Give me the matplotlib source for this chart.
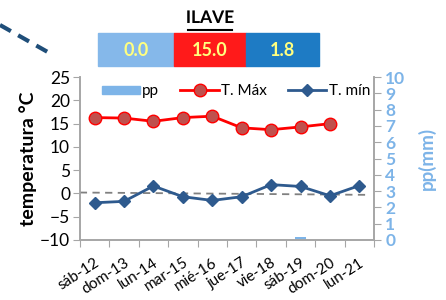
import matplotlib as mpl
mpl.use('agg')
import matplotlib.pyplot as plt
from matplotlib.lines import Line2D
from matplotlib.patches import Rectangle
import matplotlib.patheffects as pe

plt.rcParams['font.family'] = ['Lato', 'DejaVu Sans']

# data
days = ['sáb-12', 'dom-13', 'lun-14', 'mar-15', 'mié-16',
        'jue-17', 'vie-18', 'sáb-19', 'dom-20', 'lun-21']
tmax = [16.3, 16.2, 15.5, 16.3, 16.6, 14.1, 13.7, 14.3, 15.0, None]
tmin = [-2.0, -1.7, 1.6, -0.7, -1.5, -0.7, 1.9, 1.5, -0.5, 1.7]
pp = [0, 0, 0, 0, 0, 0, 0, 0.2, 0, 0]
trend_ends = [0.2, -0.3]
box_labels = ['0.0', '15.0', '1.8']
box_colors = ['#85B8EA', '#FF1A1A', '#1E7BC4']
station = 'ILAVE'

pp_color = '#7DB4E8'
max_color = '#FF0000'
min_color = '#2E5A8E'
spine_col = '#A6A6A6'

fig = plt.figure(figsize=(4.46, 3.0), dpi=100)
ax = fig.add_axes([0.179, 0.2, 0.66, 0.543])
ax2 = ax.twinx()

x = list(range(len(days)))
ax2.bar(x, pp, width=0.4, color=pp_color, label='pp', zorder=1)

xm = [i for i, v in enumerate(tmax) if v is not None]
ym = [v for v in tmax if v is not None]
ax.plot(xm, ym, color=max_color, lw=2, marker='o', ms=9,
        mfc='#C0504D', mec=max_color, mew=1, label='T. Máx', zorder=4)
ax.plot(x, tmin, color=min_color, lw=2, marker='D', ms=6.5,
        mfc=min_color, mec=min_color, label='T. mín', zorder=4)
ax.plot([-0.5, len(days) - 0.7], trend_ends, color='#808080', lw=1.3,
        ls=(0, (4, 3)), zorder=2)

ax.set_zorder(ax2.get_zorder() + 1)
ax.patch.set_visible(False)

ax.set_xlim(-0.5, len(days) - 0.5)
ax.set_ylim(-10, 25)
ax.set_yticks(range(-10, 26, 5))
ax2.set_ylim(0, 10)
ax2.set_yticks(range(0, 11))

ax.set_xticks([i - 0.5 for i in range(len(days) + 1)], minor=False)
ax.set_xticklabels([])
ax.set_xticks(x, minor=True)
ax.set_xticklabels(days, minor=True, rotation=33, ha='right',
                   rotation_mode='anchor', fontsize=11)
ax.tick_params(axis='x', which='minor', length=0, pad=11)
ax.tick_params(axis='x', which='major', length=5, color=spine_col)
ax.tick_params(axis='y', labelsize=12.5, length=5, color=spine_col, pad=2)
ax2.tick_params(axis='y', labelsize=12.5, length=5, color=spine_col,
                labelcolor=pp_color, pad=3)
for t in ax2.get_yticklabels():
    t.set_fontweight('bold')

for a in (ax, ax2):
    a.spines['top'].set_visible(False)
    for s in ('left', 'right', 'bottom'):
        a.spines[s].set_color(spine_col)
        a.spines[s].set_linewidth(1.2)

ax.set_ylabel('temperatura °C', fontsize=14, fontweight='bold', labelpad=2)
ax2.set_ylabel('pp(mm)', fontsize=13.5, fontweight='bold', color=pp_color,
               labelpad=9)

handles = [Rectangle((0, 0), 1, 1, color=pp_color),
           Line2D([], [], color=max_color, lw=2, marker='o', ms=9,
                  mfc='#C0504D', mec=max_color),
           Line2D([], [], color=min_color, lw=2, marker='D', ms=6.5)]
ax.legend(handles, ['pp', 'T. Máx', 'T. mín'], loc='upper center',
          ncol=3, frameon=False, fontsize=11, handlelength=2.5,
          handleheight=0.5, columnspacing=1.4, handletextpad=0.15,
          bbox_to_anchor=(0.53, 1.04))

# title and summary boxes
fig.text(0.471, 0.94, station, ha='center', va='center', fontsize=12.5,
         fontweight='bold',
         path_effects=[pe.withSimplePatchShadow(offset=(0, 0), shadow_rgbFace='#999999', alpha=0.5)])
fig.add_artist(Line2D([0.421, 0.521], [0.9, 0.9], color='black', lw=1.5))
edges = [98, 174, 246, 319]
for i, (lab, col) in enumerate(zip(box_labels, box_colors)):
    x0 = edges[i] / 446
    w = (edges[i + 1] - edges[i]) / 446
    fig.add_artist(Rectangle((x0, 1 - 66 / 300), w, 33 / 300, color=col))
    fig.text(x0 + w / 2, 1 - 50 / 300, lab, ha='center', va='center',
             fontsize=13, fontweight='bold', color='#FFFF80')

fig.add_artist(Line2D([0, 53 / 446], [1 - 25 / 300, 1 - 55 / 300],
                      color='#1F4E79', lw=3, ls=(0, (3, 2))))

plt.savefig('out.png', dpi=100)
